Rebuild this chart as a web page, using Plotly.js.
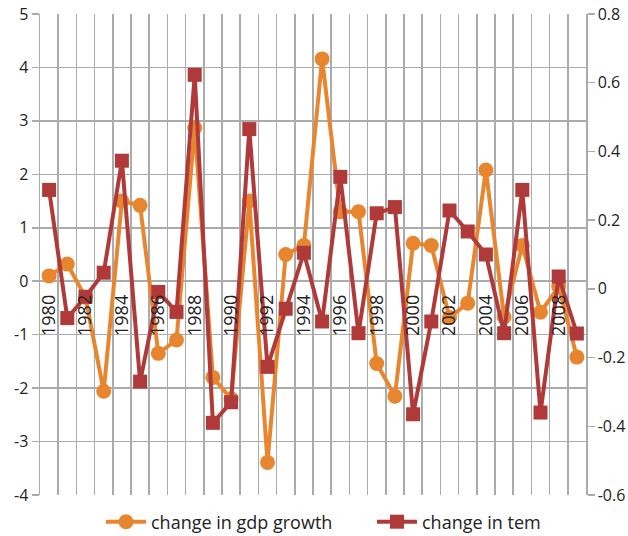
<!DOCTYPE html>
<html>
<head>
<meta charset="utf-8">
<script src="https://cdn.plot.ly/plotly-3.0.1.min.js"></script>
<style>html,body{margin:0;padding:0;background:#fff;}#chart{width:628px;height:536px;}</style>
</head>
<body>
<div id="chart"></div>
<script>
const years = [1980,1981,1982,1983,1984,1985,1986,1987,1988,1989,1990,1991,1992,1993,1994,1995,1996,1997,1998,1999,2000,2001,2002,2003,2004,2005,2006,2007,2008,2009];
const gdpChange = [0.1,0.32,-0.3,-2.06,1.5,1.42,-1.35,-1.1,2.87,-1.8,-2.2,1.5,-3.39,0.5,0.67,4.16,1.3,1.3,-1.54,-2.15,0.71,0.67,-0.68,-0.41,2.08,-0.67,0.67,-0.58,-0.1,-1.42];
const temChange = [0.288,-0.085,-0.023,0.047,0.373,-0.27,-0.009,-0.067,0.623,-0.39,-0.33,0.465,-0.227,-0.058,0.105,-0.095,0.326,-0.129,0.22,0.238,-0.365,-0.095,0.228,0.167,0.1,-0.129,0.288,-0.36,0.036,-0.13];
const xTickYears = [1980,1982,1984,1986,1988,1990,1992,1994,1996,1998,2000,2002,2004,2006,2008];
const leftTickVals = [-4,-3,-2,-1,0,1,2,3,4,5];
const leftTickText = ["-4","-3","-2","-1","0","1","2","3","4","5"];
const rightTickVals = [-0.6,-0.4,-0.2,0,0.2,0.4,0.6,0.8];
const rightTickText = ["-0.6","-0.4","-0.2","0","0.2","0.4","0.6","0.8"];

const orange = "#E8862F";
const red = "#B03A3A";
const grid = "#ABABAB";
const fontFam = "'Open Sans', sans-serif";

const traces = [
  {
    x: years, y: gdpChange, name: "change in gdp growth", type: "scatter", mode: "lines+markers",
    line: {color: orange, width: 4}, marker: {symbol: "circle", size: 15, color: orange},
    yaxis: "y"
  },
  {
    x: years, y: temChange, name: "change in tem", type: "scatter", mode: "lines+markers",
    line: {color: red, width: 4}, marker: {symbol: "square", size: 14, color: red},
    yaxis: "y2"
  }
];

const yMin = -4, yMax = 5;
const layout = {
  width: 628, height: 536,
  margin: {l: 40, r: 42, t: 14, b: 41, pad: 0, autoexpand: false},
  paper_bgcolor: "#fff", plot_bgcolor: "#fff",
  font: {family: fontFam, size: 16, color: "#222"},
  showlegend: true,
  legend: {orientation: "h", x: 101/628, xanchor: "left", xref: "container", y: 14/536, yref: "container", yanchor: "middle",
           font: {size: 18, color: "#222"}, itemwidth: 40, entrywidth: 216, entrywidthmode: "pixels"},
  xaxis: {
    type: "linear", range: [1979.5, 2009.5], automargin: false,
    tickmode: "array", tickvals: xTickYears, ticktext: xTickYears.map(String),
    tickangle: -90, tickfont: {size: 18, color: "#222"},
    showgrid: false, zeroline: false, showline: false, ticks: "",
    anchor: "free", position: (0 - yMin) / (yMax - yMin),
    ticklabelstandoff: 9,
    minor: {tick0: 1979.5, dtick: 1, showgrid: true, gridcolor: grid, gridwidth: 1.5, ticks: ""}
  },
  yaxis: {
    range: [yMin, yMax], automargin: false, tickmode: "array", tickvals: leftTickVals, ticktext: leftTickText,
    showgrid: true, gridcolor: grid, gridwidth: 1.5, zeroline: false,
    showline: true, linecolor: grid, linewidth: 1.5,
    ticks: "outside", ticklen: 7, tickcolor: grid, tickwidth: 1.5,
    tickfont: {size: 16, color: "#222"}
  },
  yaxis2: {
    overlaying: "y", side: "right", range: [-0.6, 0.8], automargin: false,
    tickmode: "array", tickvals: rightTickVals, ticktext: rightTickText,
    showgrid: false, zeroline: false,
    showline: true, linecolor: grid, linewidth: 1.5,
    ticks: "outside", ticklen: 7, tickcolor: grid, tickwidth: 1.5,
    tickfont: {size: 16, color: "#222"}
  }
};

Plotly.newPlot("chart", traces, layout, {staticPlot: true, displayModeBar: false});
</script>
</body>
</html>
